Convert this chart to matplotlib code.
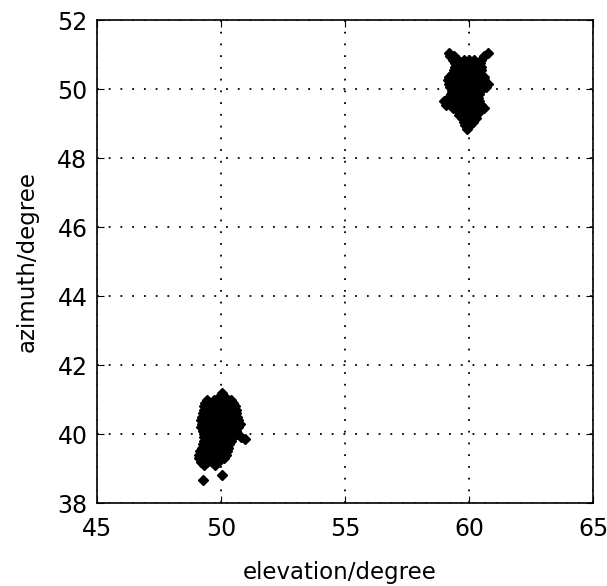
import matplotlib.pyplot as plt

# cluster near (50, 40)
elev1 = [50.05,
         49.95, 50.12,
         49.42, 49.7, 49.98, 50.2, 50.38,
         49.36, 49.6, 49.85, 50.1, 50.3, 50.5,
         49.3, 49.55, 49.8, 50.02, 50.25, 50.58,
         49.32, 49.5, 49.72, 49.95, 50.18, 50.42, 50.6,
         49.26, 49.48, 49.7, 49.92, 50.15, 50.35, 50.6,
         49.24, 49.45, 49.68, 49.9, 50.12, 50.38, 50.64,
         49.2, 49.42, 49.65, 49.88, 50.1, 50.32, 50.55, 50.7,
         49.22, 49.45, 49.66, 49.9, 50.12, 50.36, 50.58, 50.76,
         49.2, 49.4, 49.62, 49.85, 50.08, 50.3, 50.52, 50.7,
         49.25, 49.48, 49.7, 49.92, 50.15, 50.38, 50.6,
         49.3, 49.52, 49.75, 49.98, 50.2, 50.42, 50.62,
         49.32, 49.55, 49.78, 50.0, 50.22, 50.48,
         50.95, 50.8,
         49.3, 49.52, 49.75, 49.98, 50.2, 50.4,
         49.26, 49.48, 49.7, 49.92, 50.15, 50.3,
         49.22, 49.45, 49.68, 49.9, 50.12, 50.28,
         49.16, 49.4, 49.62, 49.85, 50.05, 50.25,
         49.12, 49.35, 49.58, 49.8, 50.02, 50.2,
         49.1, 49.3, 49.52, 49.75, 49.95, 50.1,
         49.2, 49.42, 49.65, 49.88,
         49.3, 49.75,
         50.05,
         49.28]
azim1 = [41.2,
         41.1, 41.1,
         41.0, 41.0, 41.0, 41.0, 41.0,
         40.9, 40.9, 40.9, 40.9, 40.9, 40.9,
         40.8, 40.8, 40.8, 40.8, 40.8, 40.8,
         40.7, 40.7, 40.7, 40.7, 40.7, 40.7, 40.7,
         40.6, 40.6, 40.6, 40.6, 40.6, 40.6, 40.6,
         40.5, 40.5, 40.5, 40.5, 40.5, 40.5, 40.5,
         40.4, 40.4, 40.4, 40.4, 40.4, 40.4, 40.4, 40.4,
         40.3, 40.3, 40.3, 40.3, 40.3, 40.3, 40.3, 40.3,
         40.2, 40.2, 40.2, 40.2, 40.2, 40.2, 40.2, 40.2,
         40.1, 40.1, 40.1, 40.1, 40.1, 40.1, 40.1,
         40.0, 40.0, 40.0, 40.0, 40.0, 40.0, 40.0,
         39.9, 39.9, 39.9, 39.9, 39.9, 39.9,
         39.85, 39.9,
         39.8, 39.8, 39.8, 39.8, 39.8, 39.8,
         39.7, 39.7, 39.7, 39.7, 39.7, 39.7,
         39.6, 39.6, 39.6, 39.6, 39.6, 39.6,
         39.5, 39.5, 39.5, 39.5, 39.5, 39.5,
         39.4, 39.4, 39.4, 39.4, 39.4, 39.4,
         39.3, 39.3, 39.3, 39.3, 39.3, 39.3,
         39.2, 39.2, 39.2, 39.2,
         39.1, 39.1,
         38.8,
         38.67]

# cluster near (60, 50)
elev2 = [59.2, 60.75,
         59.25, 59.4, 60.6,
         59.35, 59.55, 59.8, 60.0, 60.2, 60.5,
         59.42, 59.65, 59.85, 60.05, 60.25, 60.45,
         59.45, 59.68, 59.9, 60.1, 60.3, 60.5,
         59.4, 59.62, 59.85, 60.05, 60.28, 60.5,
         59.32, 59.55, 59.78, 60.0, 60.22, 60.45,
         59.2, 59.45, 59.7, 59.92, 60.15, 60.4, 60.62,
         59.15, 59.4, 59.65, 59.88, 60.1, 60.35, 60.6,
         59.2, 59.45, 59.68, 59.9, 60.12, 60.38, 60.65, 60.78,
         59.25, 59.5, 59.72, 59.95, 60.18, 60.42, 60.7,
         59.3, 59.52, 59.75, 59.98, 60.2, 60.45,
         59.28, 59.5, 59.72, 59.95, 60.18, 60.4,
         59.15, 59.4, 59.65, 59.88, 60.1, 60.35,
         59.0, 59.25, 59.5, 59.72, 59.95, 60.18, 60.4,
         59.05, 59.3, 59.55, 59.78, 60.0, 60.22, 60.5,
         59.35, 59.6, 59.82, 60.05, 60.28, 60.6,
         59.55, 59.78, 60.0, 60.22, 60.45,
         59.6, 59.82, 60.05, 60.25,
         59.7, 59.9, 60.1, 60.3,
         59.78, 59.98, 60.15,
         59.85, 60.05,
         59.92]
azim2 = [51.05, 51.05,
         50.95, 50.95, 50.95,
         50.85, 50.85, 50.85, 50.85, 50.85, 50.85,
         50.75, 50.75, 50.75, 50.75, 50.75, 50.75,
         50.65, 50.65, 50.65, 50.65, 50.65, 50.65,
         50.55, 50.55, 50.55, 50.55, 50.55, 50.55,
         50.45, 50.45, 50.45, 50.45, 50.45, 50.45,
         50.35, 50.35, 50.35, 50.35, 50.35, 50.35, 50.35,
         50.25, 50.25, 50.25, 50.25, 50.25, 50.25, 50.25,
         50.15, 50.15, 50.15, 50.15, 50.15, 50.15, 50.15, 50.15,
         50.05, 50.05, 50.05, 50.05, 50.05, 50.05, 50.05,
         49.95, 49.95, 49.95, 49.95, 49.95, 49.95,
         49.85, 49.85, 49.85, 49.85, 49.85, 49.85,
         49.75, 49.75, 49.75, 49.75, 49.75, 49.75,
         49.65, 49.65, 49.65, 49.65, 49.65, 49.65, 49.65,
         49.55, 49.55, 49.55, 49.55, 49.55, 49.55, 49.55,
         49.45, 49.45, 49.45, 49.45, 49.45, 49.45,
         49.35, 49.35, 49.35, 49.35, 49.35,
         49.25, 49.25, 49.25, 49.25,
         49.15, 49.15, 49.15, 49.15,
         49.05, 49.05, 49.05,
         48.95, 48.95,
         48.85]

xticks = [45, 50, 55, 60, 65]
yticks = [38, 40, 42, 44, 46, 48, 50, 52]

fig = plt.figure(figsize=(6.07, 5.86), dpi=100)
ax = fig.add_axes([0.16, 0.1416, 0.817, 0.8242])

ax.plot(elev1, azim1, "kD", markersize=5, linestyle="none")
ax.plot(elev2, azim2, "kD", markersize=5, linestyle="none")

ax.set_xlim(45, 65)
ax.set_ylim(38, 52)
ax.set_xticks(xticks)
ax.set_yticks(yticks)
ax.grid(True, color="black", linestyle=(0, (1, 5.5)), linewidth=1.3)
ax.tick_params(direction="in", top=True, right=True, length=5,
               labelsize=17, colors="black")
ax.tick_params(axis="x", pad=10)
ax.tick_params(axis="y", pad=7)
for s in ax.spines.values():
    s.set_linewidth(1.2)

ax.set_xlabel("elevation/degree", fontsize=16.5)
ax.set_ylabel("azimuth/degree", fontsize=16.5)
ax.xaxis.set_label_coords(0.49, -0.12)
ax.yaxis.set_label_coords(-0.118, 0.5)

fig.savefig("out.png", dpi=100)
